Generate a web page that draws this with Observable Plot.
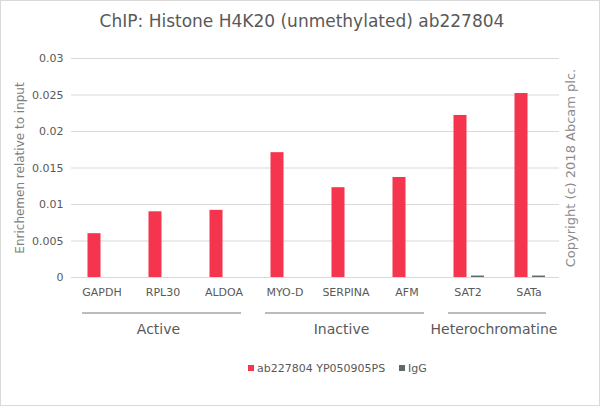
<!DOCTYPE html>
<html>
<head>
<meta charset="utf-8">
<script src="https://cdn.jsdelivr.net/npm/d3@7"></script>
<script src="https://cdn.jsdelivr.net/npm/@observablehq/plot@0.6"></script>
<style>
  body { margin: 0; background: #fff; }
  #wrap { position: relative; width: 600px; height: 406px; background: #fff; font-family: "DejaVu Sans", sans-serif; color: #595959; overflow: hidden; }
  #frame { position: absolute; left: 0; top: 0; width: 600px; height: 406px; box-sizing: border-box; border: 1px solid #d9d9d9; pointer-events: none; }
  #title { position: absolute; left: 0; top: 11px; width: 604px; text-align: center; font-size: 17px; color: #595959; white-space: nowrap; }
  #chart { position: absolute; left: 0; top: 0; }
  #legend { position: absolute; left: 0; top: 362px; width: 600px; font-size: 11px; color: #595959; white-space: nowrap; }
  .sw { display: inline-block; width: 6px; height: 6px; margin-right: 3px; vertical-align: 1px; }
  .item { position: absolute; top: 0; }
</style>
</head>
<body>
<div id="wrap">
  <div id="title"></div>
  <div id="chart"></div>
  <div id="legend"></div>
  <div id="frame"></div>
</div>
<script>
const titleText = "ChIP: Histone H4K20 (unmethylated) ab227804";
const categories = ["GAPDH", "RPL30", "ALDOA", "MYO-D", "SERPINA", "AFM", "SAT2", "SATa"];
const antibodyValues = [0.0060, 0.0090, 0.0092, 0.0171, 0.0123, 0.0137, 0.0222, 0.0252];
const iggValues = [0, 0, 0, 0, 0, 0, 0.0002, 0.0002];
const seriesNames = ["ab227804 YP050905PS", "IgG"];
const seriesColors = ["#f4354d", "#5d6a68"];
const yTicks = [0, 0.005, 0.01, 0.015, 0.02, 0.025, 0.03];
const groupNames = ["Active", "Inactive", "Heterochromatine"];
const groupMembers = [["GAPDH", "ALDOA"], ["MYO-D", "AFM"], ["SAT2", "SATa"]];
const yLabel = "Enrichemen relative to input";
const copyright = "Copyright (c) 2018 Abcam plc.";

document.getElementById("title").textContent = titleText;

const ab = categories.map((c, i) => ({category: c, value: antibodyValues[i]}));
const igg = categories.map((c, i) => ({category: c, value: iggValues[i]}));

const chart = Plot.plot({
  width: 600,
  height: 345,
  marginTop: 58,
  marginBottom: 68,
  marginLeft: 71,
  marginRight: 41,
  style: {fontFamily: "DejaVu Sans, sans-serif", fontSize: "11px", color: "#595959", background: "transparent", overflow: "visible"},
  x: {domain: categories, padding: 0, label: null, tickSize: 0, tickPadding: 11},
  y: {domain: [0, 0.03], ticks: yTicks, tickFormat: d3.format("~g"), tickSize: 0, tickPadding: 8, label: null},
  marks: [
    Plot.ruleY(yTicks, {stroke: "#d9d9d9", strokeWidth: 1}),
    Plot.barY(ab, {x: "category", y: "value", fill: seriesColors[0], insetLeft: 16.5, insetRight: 31.5}),
    Plot.barY(igg, {x: "category", y: "value", fill: seriesColors[1], insetLeft: 34, insetRight: 14}),
    Plot.text([yLabel], {text: d => d, frameAnchor: "left", textAnchor: "middle", dx: -51, rotate: -90, fill: "#7f7f7f", fontSize: 12}),
    Plot.text([copyright], {text: d => d, frameAnchor: "right", textAnchor: "middle", dx: 11, rotate: -90, fill: "#8c8c8c", fontSize: 13})
  ]
});
document.getElementById("chart").appendChild(chart);

// category group brackets under the axis, placed with the plot's x scale
const sx = chart.scale("x");
const bw = sx.bandwidth;
const svg = d3.select(chart);
groupNames.forEach((name, i) => {
  const x0 = sx.apply(groupMembers[i][0]);
  const x1 = sx.apply(groupMembers[i][1]) + bw;
  svg.append("line")
    .attr("x1", x0 + 11).attr("x2", x1 - 13)
    .attr("y1", 313).attr("y2", 313)
    .attr("stroke", "#a6a6a6").attr("stroke-width", 1.5);
  svg.append("text")
    .attr("x", (x0 + x1) / 2 - 4).attr("y", 334)
    .attr("text-anchor", "middle")
    .attr("fill", "#595959")
    .style("font-size", "14px")
    .text(name);
});

// legend
const legend = document.getElementById("legend");
const positions = [248, 399];
seriesNames.forEach((s, i) => {
  const item = document.createElement("span");
  item.className = "item";
  item.style.left = positions[i] + "px";
  item.innerHTML = `<span class="sw" style="background:${seriesColors[i]}"></span>${s}`;
  legend.appendChild(item);
});
</script>
</body>
</html>
